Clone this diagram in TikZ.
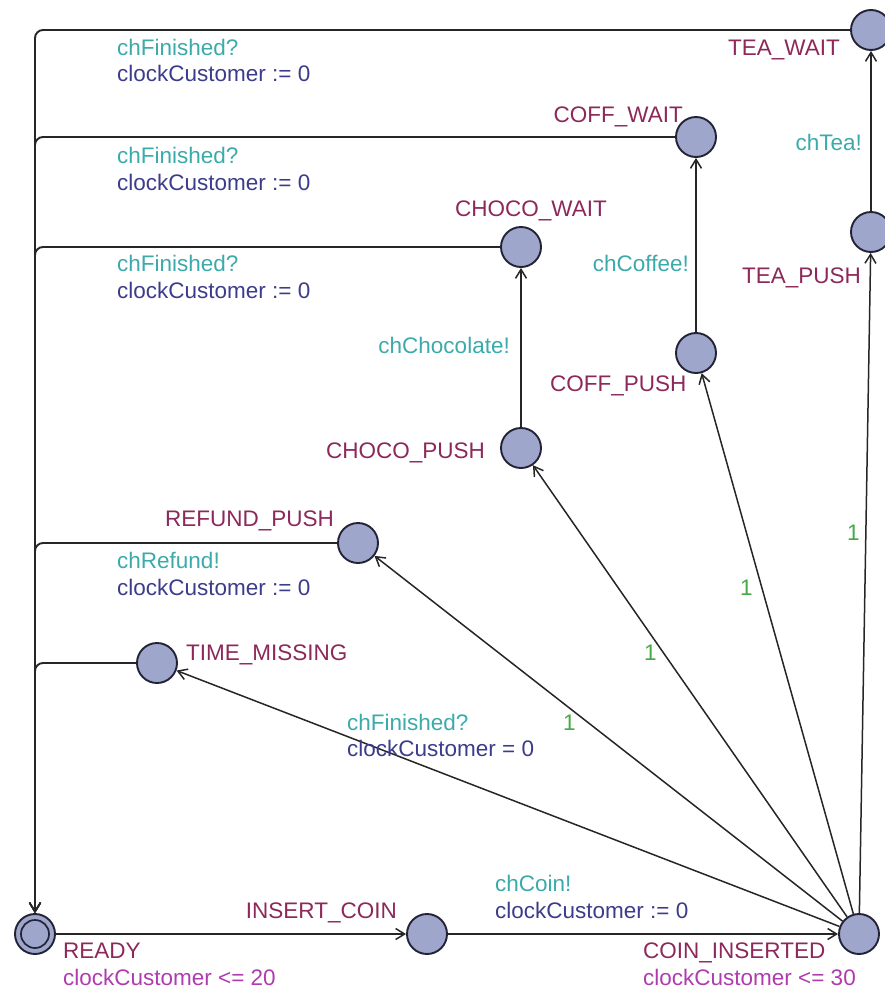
\documentclass[tikz,border=0pt]{standalone}
\usepackage{fontspec}
\setmainfont{Liberation Sans}
\usetikzlibrary{arrows.meta}
\definecolor{locfill}{RGB}{158,166,204}
\definecolor{locline}{RGB}{35,35,55}
\definecolor{namecol}{RGB}{140,40,90}
\definecolor{invcol}{RGB}{175,60,175}
\definecolor{synccol}{RGB}{60,170,170}
\definecolor{updcol}{RGB}{60,60,140}
\definecolor{probcol}{RGB}{70,170,70}
\begin{document}
\begin{tikzpicture}[x=1pt,y=-1pt,
  loc/.style={circle,draw=locline,fill=locfill,line width=1.9pt,minimum size=40pt,inner sep=0pt},
  edge/.style={draw=black!85,line width=1.5pt,-{Straight Barb[length=9pt,width=11pt,line width=1.5pt]}},
  back/.style={edge,line width=1.9pt,rounded corners=8pt},
  lbl/.style={inner sep=0pt,font=\fontsize{22.5}{26}\selectfont},
  locname/.style={lbl,text=namecol},
  linv/.style={lbl,text=invcol},
  lsync/.style={lbl,text=synccol},
  lupd/.style={lbl,text=updcol},
  lprob/.style={lbl,text=probcol}]
\useasboundingbox (0,0) rectangle (884,991);

% locations
\node[loc] (ready) at (35,934) {};
\draw[locline,line width=1.7pt] (ready.center) circle (14pt);
\node[loc] (ic) at (427,934) {};
\node[loc] (ci) at (859,934) {};
\node[loc] (tm) at (157,663) {};
\node[loc] (rp) at (358,543) {};
\node[loc] (cp) at (521,448) {};
\node[loc] (cw) at (521,247) {};
\node[loc] (fp) at (696,353) {};
\node[loc] (fw) at (696,137) {};
\node[loc] (tp) at (871,232) {};
\node[loc] (tw) at (871,30) {};

% location names and invariants
\node[locname,anchor=base west] (nready) at (63,958) {READY};
\node[linv,anchor=base west] (iready) at (63,985) {clockCustomer <= 20};
\node[locname,anchor=base east] (nic) at (397,918) {INSERT\_COIN};
\node[locname,anchor=base west] (nci) at (643,958) {COIN\_INSERTED};
\node[linv,anchor=base west] (ici) at (643,985) {clockCustomer <= 30};
\node[locname,anchor=base west] (ntm) at (186,660) {TIME\_MISSING};
\node[locname,anchor=base east] (nrp) at (334,526) {REFUND\_PUSH};
\node[locname,anchor=base east] (ncp) at (485,458) {CHOCO\_PUSH};
\node[locname,anchor=base west] (ncw) at (455,216) {CHOCO\_WAIT};
\node[locname,anchor=base west] (nfp) at (550,391) {COFF\_PUSH};
\node[locname,anchor=base east] (nfw) at (683,122) {COFF\_WAIT};
\node[locname,anchor=base east] (ntp) at (861,283) {TEA\_PUSH};
\node[locname,anchor=base east] (ntw) at (840,55) {TEA\_WAIT};

% edges
\draw[edge,line width=1.9pt] (ready) -- (ic);
\draw[edge,line width=1.9pt] (ic) -- (ci);
\draw[edge] (ci) -- (tm);
\draw[edge] (ci) -- (rp);
\draw[edge] (ci) -- (cp);
\draw[edge] (ci) -- (fp);
\draw[edge] (ci) -- (tp);
\draw[edge] (cp) -- (cw);
\draw[edge] (fp) -- (fw);
\draw[edge] (tp) -- (tw);
\draw[back] (tw) -| (ready);
\draw[back] (fw) -| (ready);
\draw[back] (cw) -| (ready);
\draw[back] (rp) -| (ready);
\draw[back] (tm) -| (ready);

% edge labels
\node[lsync,anchor=base west] (s1) at (117,55) {chFinished?};
\node[lupd,anchor=base west] (u1) at (117,81) {clockCustomer := 0};
\node[lsync,anchor=base west] (s2) at (117,163) {chFinished?};
\node[lupd,anchor=base west] (u2) at (117,190) {clockCustomer := 0};
\node[lsync,anchor=base west] (s3) at (117,271) {chFinished?};
\node[lupd,anchor=base west] (u3) at (117,298) {clockCustomer := 0};
\node[lsync,anchor=base west] (s4) at (117,568) {chRefund!};
\node[lupd,anchor=base west] (u4) at (117,595) {clockCustomer := 0};
\node[lsync,anchor=base west] (s5) at (347,730) {chFinished?};
\node[lupd,anchor=base west] (u5) at (347,756) {clockCustomer = 0};
\node[lsync,anchor=base west] (s6) at (495,891) {chCoin!};
\node[lupd,anchor=base west] (u6) at (495,918) {clockCustomer := 0};
\node[lsync,anchor=base east] (s7) at (862,150) {chTea!};
\node[lsync,anchor=base east] (s8) at (689,271) {chCoffee!};
\node[lsync,anchor=base east] (s9) at (510,353) {chChocolate!};
\node[lprob,anchor=base west] (p1) at (563,730) {1};
\node[lprob,anchor=base west] (p2) at (644,660) {1};
\node[lprob,anchor=base west] (p3) at (740,595) {1};
\node[lprob,anchor=base west] (p4) at (847,540) {1};
\end{tikzpicture}
\end{document}
